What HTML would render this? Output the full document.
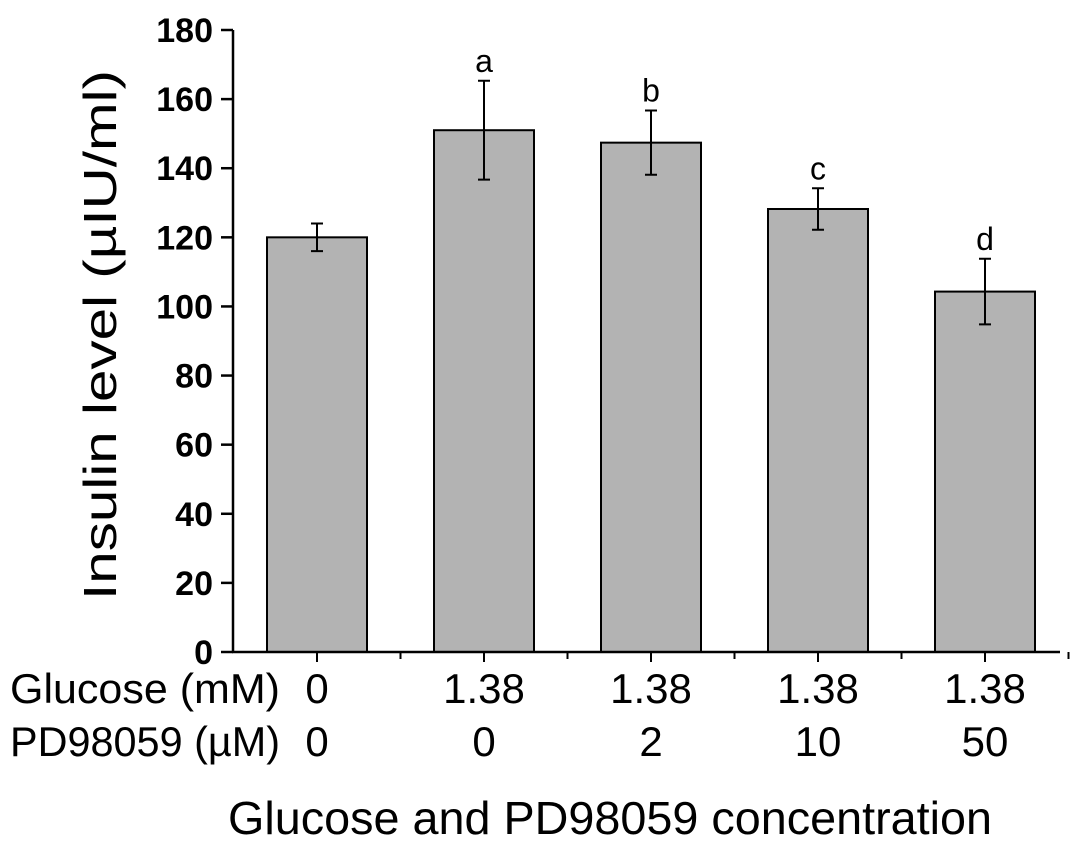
<!DOCTYPE html>
<html><head><meta charset="utf-8"><style>
body{margin:0;background:#fff;}
svg text{font-family:"Liberation Sans",Arial,sans-serif;}
</style></head><body>
<svg id="c" width="1087" height="847"></svg>
<script>
const categories=["0/0","1.38/0","1.38/2","1.38/10","1.38/50"];
const glucose=["0","1.38","1.38","1.38","1.38"];
const pd=["0","0","2","10","50"];
const values=[120,151,147.4,128.2,104.3];
const errors=[4,14.3,9.3,6,9.5];
const sigLetters=["","a","b","c","d"];
const yTicks=[0,20,40,60,80,100,120,140,160,180];
const svg=document.getElementById('c');
const NS='http://www.w3.org/2000/svg';
const x0=233,y0=652,yTop=30,yMax=180,step=167,barW=100,firstC=317;
function ys(v){return y0-(v/yMax)*(y0-yTop);}
function xs(i){return firstC+i*step;}
function el(t,a,txt){const e=document.createElementNS(NS,t);for(const k in a)e.setAttribute(k,a[k]);if(txt!==undefined)e.textContent=txt;svg.appendChild(e);return e;}
values.forEach((v,i)=>{
 let r=el('rect',{x:xs(i)-barW/2,y:ys(v),width:barW,height:y0-ys(v),fill:'#b3b3b3',stroke:'#000','stroke-width':2});
 
 
 const cx=xs(i),t=ys(v+errors[i]),b=ys(v-errors[i]);
 let g=el('path',{d:`M${cx},${t}V${b}M${cx-6},${t}H${cx+6}M${cx-6},${b}H${cx+6}`,stroke:'#000','stroke-width':2,fill:'none'});
 
 
 if(sigLetters[i]){let s=el('text',{x:cx,y:t-9,'font-size':32,'text-anchor':'middle'},sigLetters[i]);
 
 }
 let gl=el('text',{x:cx,y:703,'font-size':42,'text-anchor':'middle'},glucose[i]);
 
 
 let pl=el('text',{x:cx,y:756,'font-size':42,'text-anchor':'middle'},pd[i]);
 
 
 el('line',{x1:cx,y1:y0,x2:cx,y2:y0+10,stroke:'#000','stroke-width':2});
 el('line',{x1:cx+step/2,y1:y0,x2:cx+step/2,y2:y0+7,stroke:'#000','stroke-width':2});
});
yTicks.forEach(v=>{
 el('line',{x1:x0-12,y1:ys(v),x2:x0,y2:ys(v),stroke:'#000','stroke-width':2.5});
 let t=el('text',{x:x0-20,y:ys(v)+12,'font-size':34,'font-weight':'bold','text-anchor':'end'},v);
 
 
});
el('line',{x1:x0,y1:yTop,x2:x0,y2:y0+1,stroke:'#000','stroke-width':2.5});
el('line',{x1:x0-1,y1:y0,x2:1060,y2:y0,stroke:'#000','stroke-width':2.5});
let yt=el('text',{transform:'translate(116,335) rotate(-90)','font-size':46,'text-anchor':'middle',textLength:530,lengthAdjust:'spacingAndGlyphs'},'Insulin level (µIU/ml)');


let a=el('text',{x:10,y:703,'font-size':42,textLength:270,lengthAdjust:'spacingAndGlyphs'},'Glucose (mM)');


let b=el('text',{x:10,y:756,'font-size':42,textLength:270,lengthAdjust:'spacingAndGlyphs'},'PD98059 (µM)');


let xt=el('text',{x:228,y:834,'font-size':46,textLength:764,lengthAdjust:'spacingAndGlyphs'},'Glucose and PD98059 concentration');


</script>
</body></html>
